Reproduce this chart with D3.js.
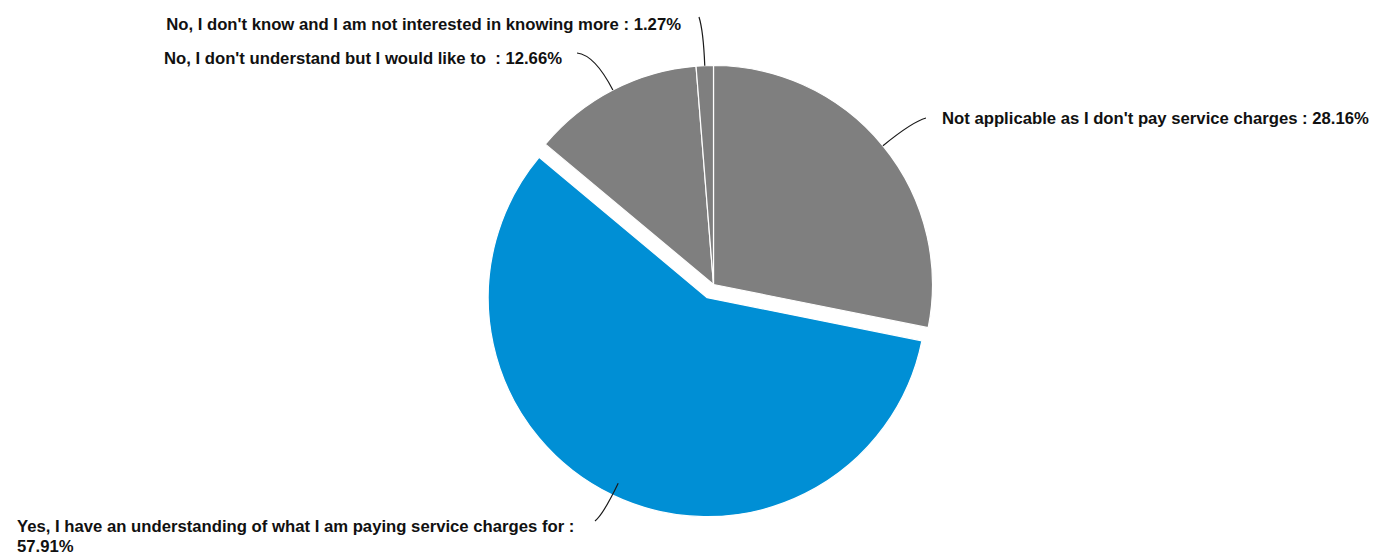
<!DOCTYPE html>
<html>
<head>
<meta charset="utf-8">
<script src="https://cdn.jsdelivr.net/npm/d3@7"></script>
<style>
  html, body { margin: 0; padding: 0; background: #ffffff; }
  svg { display: block; }
  .lbl { font-family: "Liberation Sans", Arial, sans-serif; font-weight: bold; font-size: 16.7px; fill: #111111; }
</style>
</head>
<body>
<svg id="chart" width="1373" height="556"></svg>
<script>
// Survey answers, clockwise from 12 o'clock
const categories = [
  "Not applicable as I don't pay service charges",
  "Yes, I have an understanding of what I am paying service charges for",
  "No, I don't understand but I would like to ",
  "No, I don't know and I am not interested in knowing more"
];
const values = [28.16, 57.91, 12.66, 1.27];
const colors = ["#7f7f7f", "#008fd5", "#7f7f7f", "#7f7f7f"];
const exploded = [false, true, false, false];

// Label layout: connector end point, text anchor and text position
const labelLayout = [
  { end: [926, 118], ctrl: 0.18, anchor: "start", tx: 942, ty: 124, lines: 1 },
  { end: [595, 521], ctrl: 0.14, anchor: "start", tx: 17,  ty: 532, lines: 2, startR: 0.94 },
  { end: [577, 53],  ctrl: 0.15, anchor: "end",   tx: 562, ty: 64,  lines: 1 },
  { end: [699, 17],  ctrl: 0.21, anchor: "end",   tx: 681, ty: 30,  lines: 1 }
];

const cx = 713.5, cy = 284.5, R = 219, explode = 14.6;

const svg = d3.select("#chart");
const g = svg.append("g").attr("transform", `translate(${cx},${cy})`);

const pie = d3.pie().sort(null).value(d => d)(values);
const arc = d3.arc().innerRadius(0).outerRadius(R);

pie.forEach((p, i) => {
  const mid = (p.startAngle + p.endAngle) / 2;
  const off = exploded[i] ? explode : 0;
  p.dx = Math.sin(mid) * off;
  p.dy = -Math.cos(mid) * off;
  p.mid = mid;
});

g.selectAll("path.slice")
  .data(pie)
  .join("path")
  .attr("class", "slice")
  .attr("d", arc)
  .attr("transform", d => `translate(${d.dx},${d.dy})`)
  .attr("fill", (d, i) => colors[i])
  .attr("stroke", "#ffffff")
  .attr("stroke-width", 1.2)
  .attr("stroke-linejoin", "round");

// Connectors: leave the slice radially, then bend toward the label
pie.forEach((p, i) => {
  const L = labelLayout[i];
  const r0 = R * (L.startR || 1);
  const sx = cx + p.dx + Math.sin(p.mid) * r0;
  const sy = cy + p.dy - Math.cos(p.mid) * r0;
  const ex = L.end[0], ey = L.end[1];
  const dist = Math.hypot(ex - sx, ey - sy);
  const k = dist * (1 - L.ctrl);
  const qx = sx + Math.sin(p.mid) * k * 0.9;
  const qy = sy - Math.cos(p.mid) * k * 0.9;
  const path = d3.path();
  path.moveTo(sx, sy);
  path.quadraticCurveTo(qx, qy, ex, ey);
  svg.append("path")
    .attr("d", path.toString())
    .attr("fill", "none")
    .attr("stroke", "#1a1a1a")
    .attr("stroke-width", 1.2);

  const txt = svg.append("text")
    .attr("class", "lbl")
    .attr("text-anchor", L.anchor)
    .attr("x", L.tx)
    .attr("y", L.ty)
    .style("white-space", "pre");
  const pct = d3.format(".2f")(values[i]) + "%";
  if (L.lines === 2) {
    txt.append("tspan").attr("x", L.tx).text(categories[i] + " :");
    txt.append("tspan").attr("x", L.tx).attr("dy", 20).text(pct);
  } else {
    txt.text(categories[i] + " : " + pct);
  }
});
</script>
</body>
</html>
